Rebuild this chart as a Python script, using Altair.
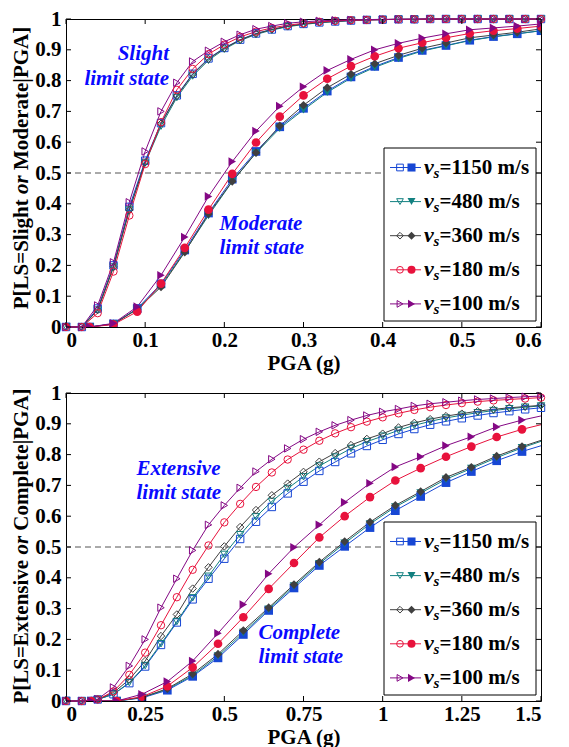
import altair as alt
import pandas as pd

# ---------------- data ----------------
VS = ["1150", "480", "360", "180", "100"]
COLORS = ["#1747d4", "#128080", "#404040", "#e8123c", "#840884"]
SHAPES = ["square", "triangle-down", "diamond", "circle", "triangle-right"]

X_SLIGHT = [0, 0.02, 0.04, 0.06, 0.08, 0.10, 0.12, 0.14, 0.16, 0.18, 0.20, 0.22, 0.24, 0.26, 0.28, 0.30,
            0.32, 0.34, 0.36, 0.38, 0.40, 0.42, 0.44, 0.46, 0.48, 0.50, 0.52, 0.54, 0.56, 0.58, 0.60]
SLIGHT = {
    "1150": [0, 0, 0.06, 0.20, 0.39, 0.54, 0.662, 0.752, 0.822, 0.872, 0.906, 0.933, 0.953, 0.966, 0.977, 0.984,
             0.989, 0.992, 0.995, 0.997, 0.998, 0.999, 0.999, 1, 1, 1, 1, 1, 1, 1, 1],
    "480": [0, 0, 0.055, 0.195, 0.38, 0.532, 0.652, 0.745, 0.815, 0.866, 0.902, 0.93, 0.95, 0.964, 0.975, 0.982,
            0.988, 0.992, 0.995, 0.997, 0.998, 0.999, 0.999, 1, 1, 1, 1, 1, 1, 1, 1],
    "360": [0, 0, 0.055, 0.195, 0.38, 0.535, 0.66, 0.75, 0.82, 0.87, 0.905, 0.932, 0.952, 0.966, 0.976, 0.984,
            0.989, 0.992, 0.995, 0.997, 0.998, 0.999, 0.999, 1, 1, 1, 1, 1, 1, 1, 1],
    "180": [0, 0, 0.045, 0.18, 0.362, 0.529, 0.665, 0.77, 0.838, 0.886, 0.917, 0.942, 0.959, 0.971, 0.98, 0.986,
            0.991, 0.994, 0.996, 0.997, 0.998, 0.999, 0.999, 1, 1, 1, 1, 1, 1, 1, 1],
    "100": [0, 0, 0.07, 0.21, 0.405, 0.57, 0.70, 0.793, 0.862, 0.897, 0.926, 0.949, 0.967, 0.977, 0.986, 0.991,
            0.994, 0.996, 0.997, 0.998, 0.999, 0.999, 1, 1, 1, 1, 1, 1, 1, 1, 1],
}

X_MODERATE = [0, 0.03, 0.06, 0.09, 0.12, 0.15, 0.18, 0.21, 0.24, 0.27, 0.30, 0.33, 0.36, 0.39, 0.42, 0.45,
              0.48, 0.51, 0.54, 0.57, 0.60]
MODERATE = {
    "1150": [0, 0, 0.01, 0.06, 0.14, 0.25, 0.37, 0.48, 0.57, 0.65, 0.71, 0.766, 0.812, 0.846, 0.875, 0.898,
             0.914, 0.931, 0.943, 0.952, 0.962],
    "480": [0, 0, 0.01, 0.058, 0.135, 0.245, 0.362, 0.472, 0.565, 0.645, 0.705, 0.762, 0.808, 0.843, 0.872, 0.896,
            0.913, 0.93, 0.942, 0.952, 0.962],
    "360": [0, 0, 0.01, 0.058, 0.13, 0.243, 0.367, 0.473, 0.566, 0.653, 0.72, 0.777, 0.821, 0.855, 0.882, 0.905,
            0.922, 0.939, 0.948, 0.957, 0.968],
    "180": [0, 0, 0.008, 0.05, 0.141, 0.257, 0.381, 0.497, 0.599, 0.683, 0.752, 0.806, 0.847, 0.879, 0.905, 0.923,
            0.939, 0.953, 0.962, 0.969, 0.977],
    "100": [0, 0, 0.012, 0.066, 0.168, 0.292, 0.424, 0.537, 0.636, 0.717, 0.78, 0.833, 0.869, 0.9, 0.921, 0.938,
            0.952, 0.965, 0.971, 0.977, 0.984],
}

X_EXTENSIVE = [0, 0.05, 0.10, 0.15, 0.20, 0.25, 0.30, 0.35, 0.40, 0.45, 0.50, 0.55, 0.60, 0.65, 0.70, 0.75,
               0.80, 0.85, 0.90, 0.95, 1.00, 1.05, 1.10, 1.15, 1.20, 1.25, 1.30, 1.35, 1.40, 1.45, 1.50]
EXTENSIVE = {
    "1150": [0, 0, 0.005, 0.022, 0.058, 0.112, 0.182, 0.255, 0.33, 0.397, 0.462, 0.526, 0.582, 0.63, 0.674, 0.712,
             0.747, 0.776, 0.804, 0.828, 0.848, 0.867, 0.883, 0.897, 0.908, 0.918, 0.927, 0.935, 0.941, 0.947, 0.952],
    "480": [0, 0, 0.005, 0.022, 0.06, 0.115, 0.186, 0.258, 0.335, 0.405, 0.476, 0.54, 0.598, 0.648, 0.69, 0.728,
            0.763, 0.792, 0.82, 0.842, 0.86, 0.879, 0.895, 0.908, 0.919, 0.928, 0.936, 0.943, 0.949, 0.954, 0.958],
    "360": [0, 0, 0.005, 0.027, 0.07, 0.13, 0.211, 0.281, 0.365, 0.434, 0.502, 0.565, 0.62, 0.668, 0.706, 0.744,
            0.777, 0.805, 0.831, 0.851, 0.868, 0.888, 0.903, 0.915, 0.925, 0.933, 0.941, 0.947, 0.952, 0.956, 0.96],
    "180": [0, 0, 0.005, 0.031, 0.085, 0.157, 0.246, 0.337, 0.426, 0.505, 0.58, 0.64, 0.695, 0.742, 0.784, 0.816,
            0.845, 0.869, 0.889, 0.907, 0.921, 0.934, 0.945, 0.954, 0.961, 0.967, 0.972, 0.976, 0.979, 0.982, 0.985],
    "100": [0, 0, 0.006, 0.044, 0.114, 0.2, 0.303, 0.397, 0.489, 0.572, 0.635, 0.692, 0.745, 0.785, 0.82, 0.85,
            0.874, 0.895, 0.912, 0.927, 0.939, 0.948, 0.958, 0.965, 0.97, 0.975, 0.979, 0.982, 0.985, 0.988, 0.99],
}

X_COMPLETE = [0, 0.08, 0.16, 0.24, 0.32, 0.40, 0.48, 0.56, 0.64, 0.72, 0.80, 0.88, 0.96, 1.04, 1.12, 1.20,
              1.28, 1.36, 1.44, 1.52]
COMPLETE = {
    "1150": [0, 0, 0, 0.01, 0.035, 0.08, 0.14, 0.216, 0.294, 0.367, 0.44, 0.502, 0.563, 0.618, 0.664, 0.709,
             0.745, 0.78, 0.81, 0.835],
    "480": [0, 0, 0, 0.011, 0.038, 0.083, 0.146, 0.222, 0.298, 0.373, 0.446, 0.512, 0.575, 0.63, 0.675, 0.72,
            0.755, 0.79, 0.822, 0.85],
    "360": [0, 0, 0, 0.012, 0.04, 0.088, 0.152, 0.229, 0.303, 0.378, 0.451, 0.518, 0.581, 0.635, 0.68, 0.726,
            0.759, 0.795, 0.826, 0.853],
    "180": [0, 0, 0, 0.014, 0.048, 0.109, 0.186, 0.272, 0.364, 0.448, 0.531, 0.6, 0.662, 0.716, 0.756, 0.793,
            0.826, 0.857, 0.882, 0.902],
    "100": [0, 0, 0, 0.022, 0.063, 0.13, 0.22, 0.313, 0.413, 0.499, 0.572, 0.645, 0.707, 0.76, 0.793, 0.829,
            0.858, 0.89, 0.912, 0.93],
}

TOP_XTICKS = [0, 0.1, 0.2, 0.3, 0.4, 0.5, 0.6]
BOT_XTICKS = [0, 0.25, 0.5, 0.75, 1, 1.25, 1.5]
YTICKS = [0, 0.1, 0.2, 0.3, 0.4, 0.5, 0.6, 0.7, 0.8, 0.9, 1]
MEDIAN = [0.5]

# ---------------- layout ----------------
W, H = 475, 308
FONT = "Liberation Serif, Times New Roman, serif"
FS = 21
TXT_BLUE = "#0a0aff"

# Times Bold advance widths (per 1000 em) for the y-title
TB = {"P": 611, "[": 333, "L": 667, "S": 556, "=": 570, "l": 278, "i": 278, "g": 500, "h": 556,
      "t": 333, " ": 250, "M": 944, "o": 500, "d": 556, "e": 444, "r": 444, "a": 500, "|": 220,
      "G": 778, "A": 722, "]": 333, "E": 667, "x": 500, "n": 556, "s": 389, "v": 500, "C": 722,
      "m": 833, "p": 556}
TBI = {"o": 500, "r": 389, " ": 250}


def tw(s, table, fs):
    return sum(table[c] for c in s) * fs / 1000.0


def long_df(xs, d):
    rows = []
    for vs in VS:
        for x, p in zip(xs, d[vs]):
            rows.append({"x": x, "p": p, "vs": vs})
    return pd.DataFrame(rows)


def one():
    return pd.DataFrame({"k": [0]})


def panel(xo, do, xf, df_, xmax, xticks, tparts, tcenter, ann):
    X = alt.X("x:Q", scale=alt.Scale(domain=[0, xmax], nice=False, zero=False),
              axis=alt.Axis(values=xticks, format=".3~g", title="PGA (g)"))
    Y = alt.Y("p:Q", scale=alt.Scale(domain=[0, 1], nice=False),
              axis=alt.Axis(values=YTICKS, format=".2~g", title=None))
    color = alt.Color("vs:N", scale=alt.Scale(domain=VS, range=COLORS), legend=None)
    shape = alt.Shape("vs:N", scale=alt.Scale(domain=VS, range=SHAPES), legend=None)

    dopen = long_df(xo, do)
    dfill = long_df(xf, df_)

    layers = []
    layers.append(alt.Chart(pd.DataFrame({"p": MEDIAN})).mark_rule(
        color="#555555", strokeWidth=1, strokeDash=[6, 4]).encode(y=Y))
    layers.append(alt.Chart(dopen).mark_line(strokeWidth=1).encode(x=X, y=Y, color=color))
    layers.append(alt.Chart(dopen).mark_point(filled=False, size=55, strokeWidth=1, opacity=1).encode(
        x=X, y=Y, color=color, shape=shape))
    layers.append(alt.Chart(dfill).mark_line(strokeWidth=1, clip=True).encode(x=X, y=Y, color=color))
    layers.append(alt.Chart(dfill).mark_point(filled=True, size=75, opacity=1, clip=True).encode(
        x=X, y=Y, color=color, shape=shape))

    # inward ticks on all four sides
    xt = pd.DataFrame({"x": xticks})
    yt = pd.DataFrame({"p": YTICKS})
    layers.append(alt.Chart(xt).mark_rule(color="black").encode(x=X, y=alt.value(H), y2=alt.value(H - 5)))
    layers.append(alt.Chart(xt).mark_rule(color="black").encode(x=X, y=alt.value(0), y2=alt.value(5)))
    layers.append(alt.Chart(yt).mark_rule(color="black").encode(y=Y, x=alt.value(0), x2=alt.value(5)))
    layers.append(alt.Chart(yt).mark_rule(color="black").encode(y=Y, x=alt.value(W), x2=alt.value(W - 5)))

    # annotations
    for (txt, ax, ay, al) in ann:
        layers.append(alt.Chart(one()).mark_text(
            font=FONT, fontSize=FS, fontWeight="bold", fontStyle="italic", color=TXT_BLUE,
            align=al, baseline="middle").encode(x=alt.value(ax), y=alt.value(ay), text=alt.value(txt)))

    # y-axis title made of three pieces (middle one italic)
    p1, p2, p3 = tparts
    sp = tw(" ", TB, FS)
    w1, w2, w3 = tw(p1, TB, FS), tw(p2, TBI, FS), tw(p3, TB, FS)
    total = w1 + sp + w2 + sp + w3
    start = tcenter + total / 2
    for txt, off, style in [(p1, 0, "normal"), (p2, w1 + sp, "italic"), (p3, w1 + sp + w2 + sp, "normal")]:
        layers.append(alt.Chart(one()).mark_text(
            font=FONT, fontSize=FS, fontWeight="bold", fontStyle=style, color="black",
            angle=270, align="left", baseline="alphabetic").encode(
            x=alt.value(-38), y=alt.value(start - off), text=alt.value(txt)))

    # legend
    bx0, bx1, by0, by1 = 318, 470, 129, 302
    layers.append(alt.Chart(one()).mark_rect(fill="white", stroke="black", strokeWidth=1).encode(
        x=alt.value(bx0), x2=alt.value(bx1), y=alt.value(by0), y2=alt.value(by1)))
    for i, (vs, c, s) in enumerate(zip(VS, COLORS, SHAPES)):
        ry = 148.5 + 34.1 * i
        layers.append(alt.Chart(one()).mark_rule(color=c, strokeWidth=1).encode(
            x=alt.value(324), x2=alt.value(355), y=alt.value(ry)))
        layers.append(alt.Chart(one()).mark_point(shape=s, filled=False, color=c, size=45, strokeWidth=1,
                                                  opacity=1).encode(x=alt.value(334), y=alt.value(ry)))
        layers.append(alt.Chart(one()).mark_point(shape=s, filled=True, color=c, size=65, opacity=1).encode(
            x=alt.value(345.5), y=alt.value(ry)))
        layers.append(alt.Chart(one()).mark_text(font=FONT, fontSize=22, fontStyle="italic", fontWeight="bold",
                                                 align="left", baseline="middle", color="black").encode(
            x=alt.value(358), y=alt.value(ry - 1), text=alt.value("v")))
        layers.append(alt.Chart(one()).mark_text(font=FONT, fontSize=15, fontStyle="italic", fontWeight="bold",
                                                 align="left", baseline="middle", color="black").encode(
            x=alt.value(367.5), y=alt.value(ry + 5), text=alt.value("s")))
        layers.append(alt.Chart(one()).mark_text(font=FONT, fontSize=21, fontWeight="bold",
                                                 align="left", baseline="middle", color="black").encode(
            x=alt.value(373.5), y=alt.value(ry), text=alt.value("=" + vs + " m/s")))

    return alt.layer(*layers).properties(width=W, height=H)


top = panel(X_SLIGHT, SLIGHT, X_MODERATE, MODERATE, 0.6, TOP_XTICKS,
            ("P[LS=Slight", "or", "Moderate|PGA]"), 149,
            [("Slight", 103, 35, "right"), ("limit state", 103, 60, "right"),
             ("Moderate", 153.5, 204.5, "left"), ("limit state", 153.5, 228.5, "left")])
bottom = panel(X_EXTENSIVE, EXTENSIVE, X_COMPLETE, COMPLETE, 1.5, BOT_XTICKS,
               ("P[LS=Extensive", "or", "Complete|PGA]"), 153,
               [("Extensive", 70.5, 76, "left"), ("limit state", 70.5, 100, "left"),
                ("Complete", 192.5, 239.5, "left"), ("limit state", 192.5, 263.5, "left")])

chart = alt.vconcat(top, bottom, spacing=7, padding={"left": 2, "top": -1, "right": 5, "bottom": 0}).configure_view(
    stroke="black", strokeWidth=1
).configure_axis(
    labelFont=FONT, labelFontSize=FS, labelFontWeight="bold", labelColor="black",
    titleFont=FONT, titleFontSize=FS, titleFontWeight="bold", titleColor="black",
    domain=False, ticks=False, tickSize=0, grid=False
).configure_axisX(labelPadding=2, titlePadding=2).configure_axisY(labelPadding=5)

chart.save("out.html", embed_options={"renderer": "svg", "actions": False})
